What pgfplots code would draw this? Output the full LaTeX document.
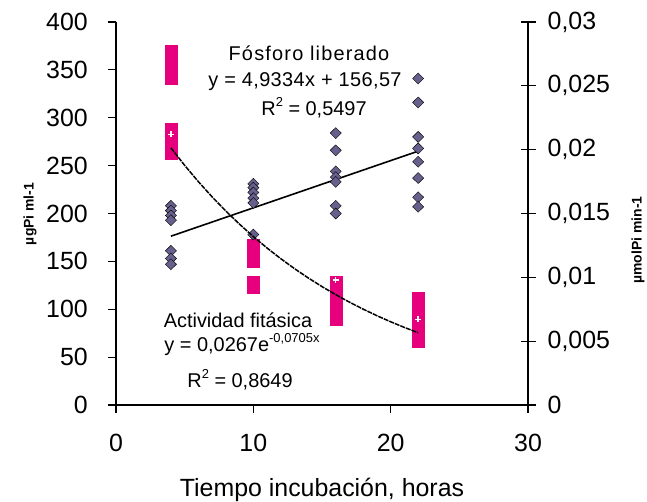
\documentclass[border=0pt]{standalone}
\usepackage{fontspec}
\setmainfont{Liberation Sans}
\usepackage{pgfplots}
\pgfplotsset{compat=1.18}
\definecolor{pinkm}{RGB}{230,0,126}
\definecolor{slate}{RGB}{102,96,140}
\newcommand{\sups}[1]{\raisebox{0.45em}{\fontsize{13}{14}\selectfont #1}}
\begin{document}
\begin{tikzpicture}
\useasboundingbox (0,0) rectangle (647bp,502bp);
\pgfplotsset{
  base/.style={scale only axis, width=412bp, height=383bp, at={(116bp,97bp)}, anchor=south west,
    xmin=0, xmax=30, clip=false,
    axis line style={line width=1.2bp, black, -},
    major tick style={line width=1.2bp, black},
    tick label style={font=\fontsize{25}{30}\selectfont, inner sep=0pt},
    label style={font=\fontsize{14}{16}\selectfont\bfseries},
  },
}
% pink squares (Actividad fitasica, right scale)
\begin{axis}[base, ymin=0, ymax=0.03, hide axis]
\addplot[color=pinkm, only marks, mark=square*, mark size=6bp, mark options={draw=pinkm, fill=pinkm, line width=0.2bp}] coordinates {
(4,0.0277) (4,0.0270) (4,0.0263) (4,0.0256)
(4,0.0216) (4,0.0209) (4,0.0203) (4,0.0197)
(10,0.0125) (10,0.0118) (10,0.0113) (10,0.0096) (10,0.0092)
(16,0.0096) (16,0.0089) (16,0.0082) (16,0.0075) (16,0.0067)
(22,0.0084) (22,0.0077) (22,0.0070) (22,0.0063) (22,0.0057) (22,0.0050)
};
\end{axis}
% left axis (Fosforo liberado)
\begin{axis}[base, ymin=0, ymax=400,
  axis x line*=bottom, axis y line*=left, tick align=outside, major tick length=8bp,
  xtick={0,10,20,30}, xticklabels={0,10,20,30},
  ytick={0,50,100,150,200,250,300,350,400}, yticklabels={0,50,100,150,200,250,300,350,400},
  xticklabel style={anchor=north, yshift=-21bp},
  yticklabel style={anchor=east, xshift=-20bp},
  xlabel={Tiempo incubación, horas},
  xlabel style={at={(axis description cs:0.5,0)}, anchor=base, yshift=-91bp, font=\fontsize{25}{30}\selectfont},
  ylabel={µgPi ml-1},
  ylabel style={at={(axis description cs:-0.2087,0.499)}, anchor=center},
]
\addplot[only marks, mark=diamond*, mark size=5.5bp, mark options={draw=none, fill=slate, xscale=1.35}] coordinates {
(4,208) (4,203) (4,198) (4,193) (4,161) (4,153) (4,147)
(10,231) (10,227) (10,222) (10,216) (10,211) (10,178)
(16,284) (16,266) (16,244) (16,238) (16,233) (16,208) (16,200)
(22,341) (22,316) (22,280) (22,268) (22,254) (22,237) (22,217) (22,207)
};
\addplot[black, line width=1.6bp] coordinates {(4,176.30) (22,265.10)};
\end{axis}
% right axis (Actividad fitasica)
\begin{axis}[base, ymin=0, ymax=0.03, hide x axis, axis y line*=right,
  tick align=center, major tick length=15bp, scaled y ticks=false,
  ytick={0,0.005,0.01,0.015,0.02,0.025,0.03},
  yticklabels={0,{0,005},{0,01},{0,015},{0,02},{0,025},{0,03}},
  yticklabel style={anchor=west, xshift=12bp},
  ylabel={µmolPi min-1},
  ylabel style={at={(axis description cs:1.267,0.431)}, anchor=center},
]
\addplot[black, line width=1.5bp, dash pattern=on 5bp off 1bp] coordinates {
(4,0.020140) (5,0.018769) (6,0.017491) (7,0.016300) (8,0.015190) (9,0.014157)
(10,0.013193) (11,0.012295) (12,0.011458) (13,0.010678) (14,0.009951) (15,0.009274)
(16,0.008643) (17,0.008054) (18,0.007506) (19,0.006995) (20,0.006519) (21,0.006075) (22,0.005662)
};
\addplot[only marks, mark=+, mark size=3bp, white, line width=1.5bp] coordinates {
(4,0.0212) (16,0.0098) (22,0.0067)
};
\end{axis}
\begin{scope}[font=\fontsize{20}{24}\selectfont]
\node at (309bp,449bp) {\addfontfeature{LetterSpace=6}Fósforo liberado};
\node at (305bp,420bp) {\addfontfeature{LetterSpace=2}y = 4,9334x + 156,57};
\node at (314bp,394bp) {R\sups{2} = 0,5497};
\node at (238bp,182bp) {Actividad fitásica};
\node at (242bp,157bp) {y = 0,0267e\sups{-0,0705x}};
\node at (240bp,122bp) {R\sups{2} = 0,8649};
\end{scope}
\end{tikzpicture}
\end{document}
